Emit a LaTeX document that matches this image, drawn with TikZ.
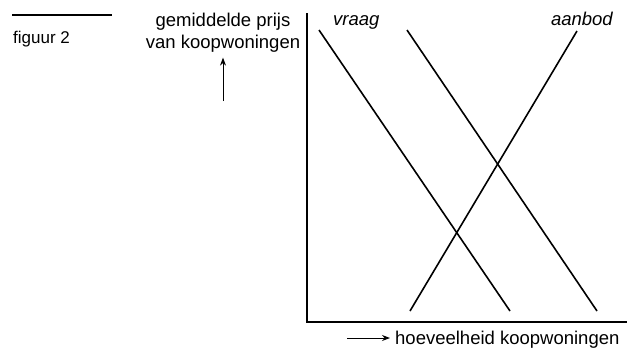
\documentclass[tikz,border=0pt]{standalone}
\usepackage{fontspec}
\setmainfont{Liberation Sans}
\usetikzlibrary{arrows.meta}

\tikzset{
  axis/.style={line width=1.6pt},
  curve/.style={line width=1.6pt},
  label/.style={inner sep=0pt, font=\fontsize{18.5}{22}\selectfont},
  curvelabel/.style={label, font=\fontsize{18.5}{22}\selectfont\itshape, anchor=base}
}

\begin{document}
\begin{tikzpicture}[x=1pt, y=-1pt, >={Stealth[length=8pt, width=6pt]}]
  \useasboundingbox (0,0) rectangle (641,349);

  % Figure header
  \coordinate (rule west) at (12,15);
  \coordinate (rule east) at (112,15);
  \draw[line width=1.6pt] (rule west) -- (rule east);
  \node[inner sep=0pt, anchor=base west, font=\fontsize{17}{20}\selectfont] (fig) at (13,43) {figuur 2};

  % Axes
  \coordinate (origin) at (307,322);
  \coordinate (ytop) at (307,13);
  \coordinate (xend) at (627,322);
  \draw[axis] (ytop) -- (origin) -- (xend);

  % Axis labels
  \node[label, align=center, anchor=north] (price) at (223,13) {gemiddelde prijs\\van koopwoningen};
  \coordinate (up start) at (223,101);
  \draw[->, line width=1pt] (up start) -- ([yshift=-5pt]price.south);
  \node[label, anchor=base west] (quantity) at (395,344) {hoeveelheid koopwoningen};
  \coordinate (right start) at (347,338);
  \draw[->, line width=1pt] (right start) -- ([xshift=-5pt]quantity.west |- right start);

  % Demand and supply lines
  \coordinate (d1 top) at (319,30);
  \coordinate (d1 bot) at (510,311);
  \coordinate (d2 top) at (407,30);
  \coordinate (d2 bot) at (597,311);
  \coordinate (s top) at (577,31);
  \coordinate (s bot) at (410,311);
  \draw[curve] (d1 top) -- (d1 bot);
  \draw[curve] (d2 top) -- (d2 bot);
  \draw[curve] (s top) -- (s bot);

  \node[curvelabel, anchor=base west] (vraag) at (333,25) {vraag};
  \node[curvelabel, anchor=base east] (aanbod) at (613,25) {aanbod};
\end{tikzpicture}
\end{document}
